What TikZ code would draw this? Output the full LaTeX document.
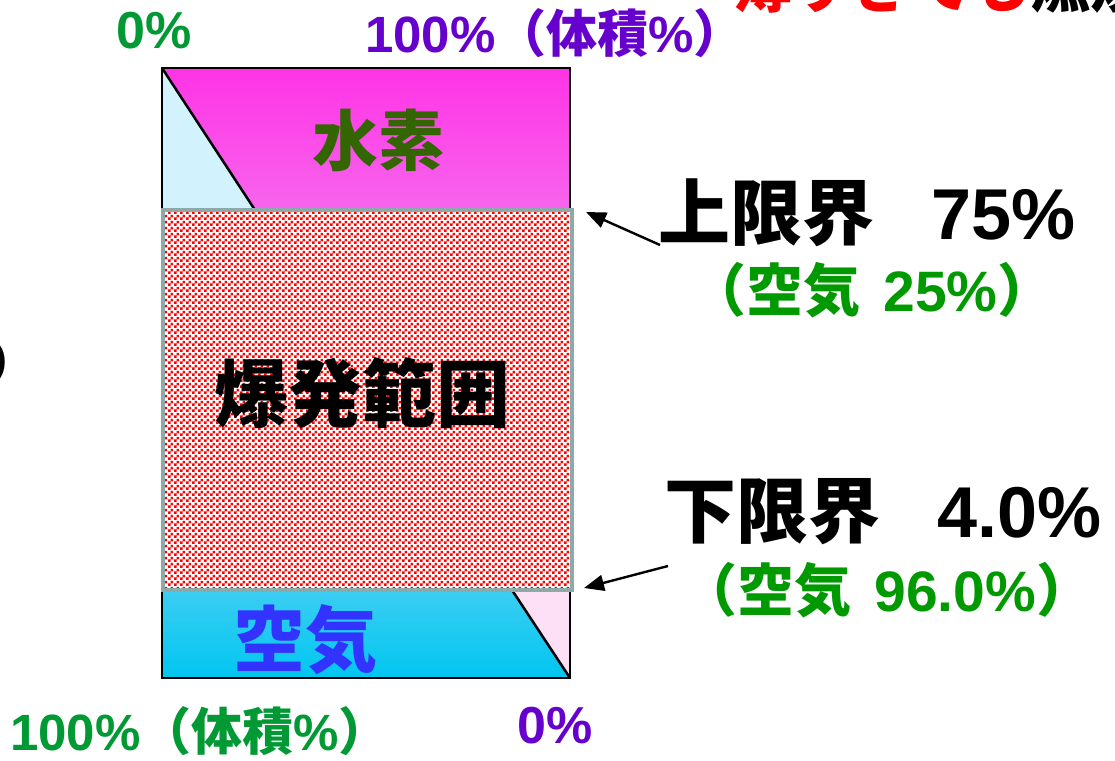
\documentclass[tikz,border=0pt]{standalone}
\usepackage{fontspec}
\setmainfont{Liberation Sans}
\newfontfamily\jp{Noto Sans CJK JP}
\usetikzlibrary{arrows.meta,patterns}
\pgfdeclarepatternformonly{mycheck}{\pgfpointorigin}{\pgfqpoint{6pt}{6pt}}{\pgfqpoint{6pt}{6pt}}{%
  \pgfpathrectangle{\pgfpointorigin}{\pgfqpoint{3pt}{3pt}}%
  \pgfpathrectangle{\pgfqpoint{3pt}{3pt}}{\pgfqpoint{3pt}{3pt}}%
  \pgfusepath{fill}}
\definecolor{axgreen}{HTML}{009933}
\definecolor{airgreen}{HTML}{009900}
\definecolor{axpurple}{HTML}{6600CC}
\definecolor{hgreen}{HTML}{336600}
\definecolor{airblue}{HTML}{3333FF}
\definecolor{magtop}{HTML}{FF33E6}
\definecolor{magbot}{HTML}{F765EC}
\definecolor{cyantop}{HTML}{3CCDF2}
\definecolor{cyanbot}{HTML}{00C6F0}
\definecolor{lcyan}{HTML}{D2F3FD}
\definecolor{lpink}{HTML}{FDE0F6}
\definecolor{rangeborder}{HTML}{8FA8A8}
\tikzset{
  lbl/.style={inner sep=0pt, font=\bfseries},
  arr/.style={line width=2.4pt, -{Triangle[length=20pt,width=16pt]}},
  edge/.style={line width=2pt, line join=miter},
}
\begin{document}
\begin{tikzpicture}[x=1pt,y=-1pt]
\useasboundingbox (0,0) rectangle (1115,760);
\clip (0,0) rectangle (1115,760);
% hydrogen region
\shade[top color=magtop, bottom color=magbot] (162,68) rectangle (570,210);
\fill[lcyan] (162,68) -- (255,210) -- (162,210) -- cycle;
\draw[line width=2.5pt] (162,68) -- (255,210);
% air region
\shade[top color=cyantop, bottom color=cyanbot] (162,590) rectangle (570,678);
\fill[lpink] (512,590) -- (570,590) -- (570,678) -- cycle;
\draw[line width=2.5pt] (512,590) -- (570,678);
% outer box
\draw[edge] (162,68) rectangle (570,678);
% explosion range
\fill[white] (163,210) rectangle (572,590);
\fill[pattern=mycheck, pattern color=red] (163,210) rectangle (572,590);
\draw[rangeborder, line width=4pt] (163,210) rectangle (572,590);
% texts in diagram
\node[lbl, text=hgreen, font=\bfseries\jp\fontsize{66}{66}\selectfont] (h2) at (378,140) {水素};
\node[lbl, font=\bfseries\jp\fontsize{74}{74}\selectfont] (rng) at (362,393) {爆発範囲};
\node[lbl, text=airblue, font=\bfseries\jp\fontsize{72}{72}\selectfont] (air) at (305,640) {空気};
% axis labels
\node[lbl, text=axgreen, font=\bfseries\fontsize{52}{52}\selectfont] (z0t) at (154,31) {0\%};
\node[lbl, text=axpurple, font=\bfseries\fontsize{51}{51}\selectfont] (h100) at (555,33) {100\%{\jp （体積}\%{\jp ）}};
\node[lbl, text=axgreen, font=\bfseries\fontsize{51}{51}\selectfont] (a100) at (200,731) {100\%{\jp （体積}\%{\jp ）}};
\node[lbl, text=axpurple, font=\bfseries\fontsize{52}{52}\selectfont] (z0b) at (555,726) {0\%};
% limit labels
\node[lbl, font=\bfseries\fontsize{72}{72}\selectfont] (upl) at (867,213) {{\jp 上限界}\hspace{0.8em}75\%};
\node[lbl, text=airgreen, font=\bfseries\fontsize{57}{57}\selectfont] (upa) at (872,290) {{\jp （空気}\hspace{0.4em}25\%{\jp ）}};
\node[lbl, font=\bfseries\fontsize{72}{72}\selectfont] (lol) at (883,512) {{\jp 下限界}\hspace{0.8em}4.0\%};
\node[lbl, text=airgreen, font=\bfseries\fontsize{57}{57}\selectfont] (loa) at (887,590) {{\jp （空気}\hspace{0.4em}96.0\%{\jp ）}};
% arrows
\coordinate (ua0) at (660,245);
\coordinate (ua1) at (586,212);
\coordinate (la0) at (668,566);
\coordinate (la1) at (584,588);
\draw[arr] (ua0) -- (ua1);
\draw[arr] (la0) -- (la1);
% cut-off texts at the edges
\node[lbl, anchor=base west, font=\bfseries\jp\fontsize{60}{60}\selectfont] (ttl) at (733,8) {\textcolor{red}{薄すぎても}燃焼};
\node[lbl, anchor=base east, font=\bfseries\jp\fontsize{60}{60}\selectfont] (lft) at (16,386) {り};
\end{tikzpicture}
\end{document}
